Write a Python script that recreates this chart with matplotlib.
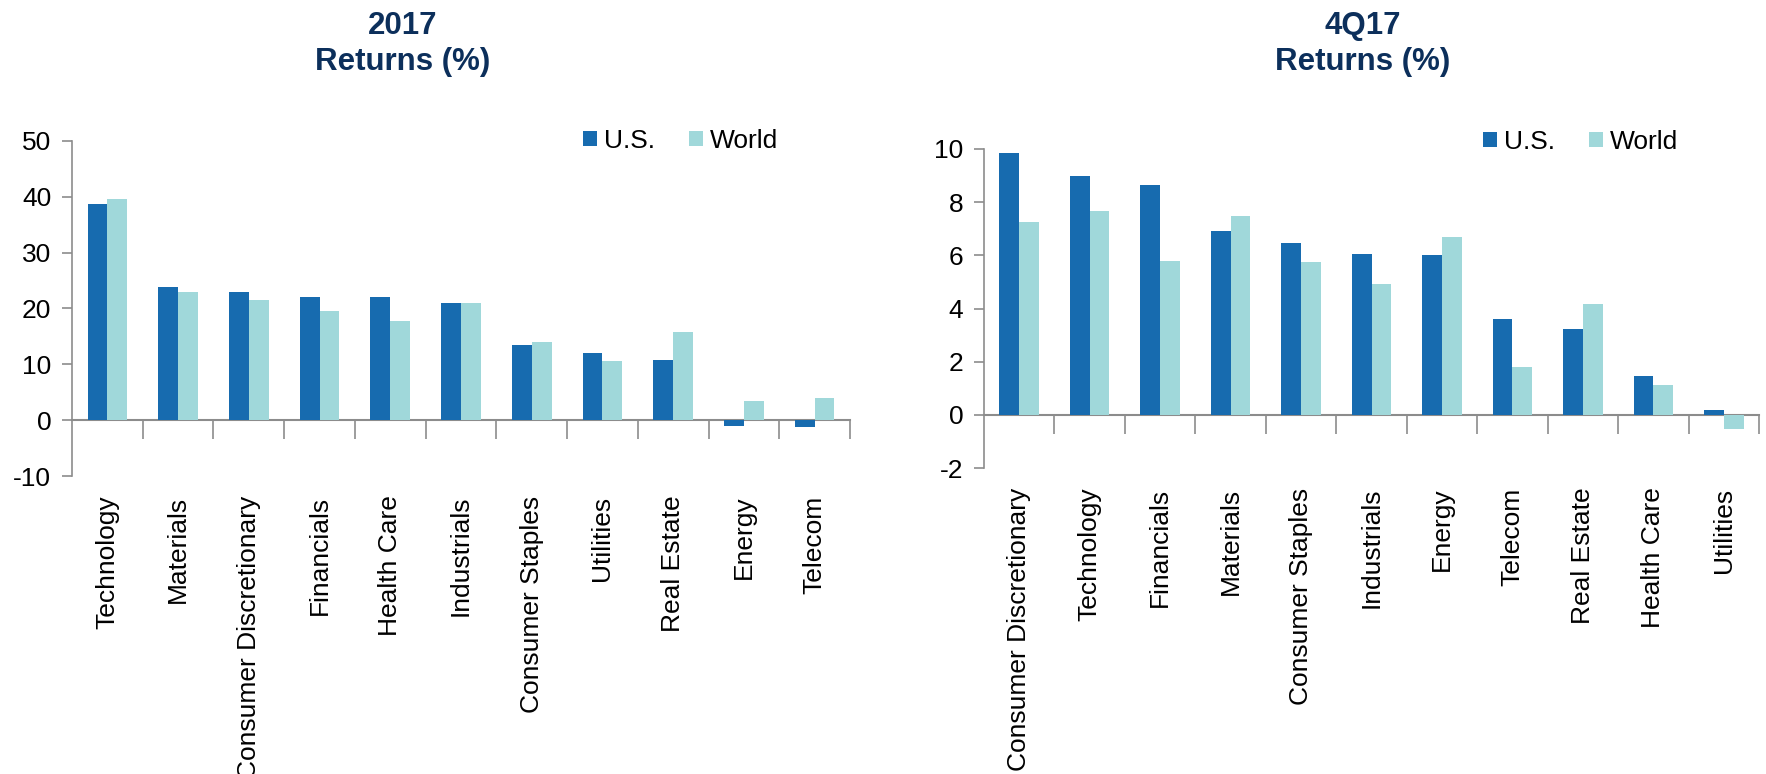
import matplotlib
matplotlib.use("Agg")
import matplotlib.pyplot as plt
import numpy as np

plt.rcParams['font.family'] = ['Liberation Sans', 'DejaVu Sans']
plt.rcParams['axes.unicode_minus'] = False

# 2017 full-year sector returns (%)
sectors_2017 = ["Technology", "Materials", "Consumer Discretionary", "Financials",
                "Health Care", "Industrials", "Consumer Staples", "Utilities",
                "Real Estate", "Energy", "Telecom"]
us_2017 = [38.8, 23.8, 22.9, 22.1, 22.0, 21.0, 13.4, 12.0, 10.7, -1.1, -1.3]
world_2017 = [39.7, 22.9, 21.5, 19.5, 17.7, 20.9, 14.0, 10.6, 15.8, 3.5, 4.0]

# 4Q17 sector returns (%)
sectors_4q17 = ["Consumer Discretionary", "Technology", "Financials", "Materials",
                "Consumer Staples", "Industrials", "Energy", "Telecom",
                "Real Estate", "Health Care", "Utilities"]
us_4q17 = [9.86, 9.0, 8.63, 6.93, 6.48, 6.06, 6.02, 3.6, 3.22, 1.46, 0.19]
world_4q17 = [7.25, 7.65, 5.78, 7.47, 5.75, 4.92, 6.68, 1.81, 4.17, 1.12, -0.53]

US_COLOR = "#176baf"
WORLD_COLOR = "#a0d8da"
TITLE_COLOR = "#0c2f5b"
AXIS_GRAY = "#8c8c8c"
W = 0.28

fig = plt.figure(figsize=(17.66, 7.74), dpi=100)
W_PX, H_PX = 1766.0, 774.0


def panel(rect, cats, us, world, ylim, step, legend_px):
    ax = fig.add_axes(rect)
    x = np.arange(len(cats))
    ax.bar(x - W / 2, us, W, color=US_COLOR, label="U.S.")
    ax.bar(x + W / 2, world, W, color=WORLD_COLOR, label="World")
    ax.set_xlim(-0.5, len(cats) - 0.5)
    ax.set_ylim(*ylim)
    ax.set_yticks(np.arange(ylim[0], ylim[1] + step / 2, step))
    for s in ["top", "right", "bottom"]:
        ax.spines[s].set_visible(False)
    ax.spines["left"].set_color(AXIS_GRAY)
    ax.spines["left"].set_linewidth(1.2)
    ax.tick_params(axis="y", direction="out", length=7, width=1.2,
                   color=AXIS_GRAY, labelsize=19, pad=8)
    ax.set_xticks(x)
    ax.set_xticklabels(cats, rotation=90, fontsize=19)
    ax.tick_params(axis="x", length=0, pad=14)

    # zero line with category separator ticks
    zero = (0 - ylim[0]) / (ylim[1] - ylim[0])
    sec = ax.secondary_xaxis(zero)
    sec.set_xticks(x + 0.5)
    sec.set_xticklabels([])
    sec.spines["bottom"].set_color(AXIS_GRAY)
    sec.spines["bottom"].set_linewidth(1.5)
    sec.tick_params(axis="x", direction="out", length=14, width=1.2,
                    color=AXIS_GRAY)

    ax.legend(loc="center left",
              bbox_to_anchor=(legend_px[0] / W_PX, 1 - legend_px[1] / H_PX),
              bbox_transform=fig.transFigure, ncol=2, frameon=False,
              fontsize=19, handlelength=0.53, handleheight=0.53,
              handletextpad=0.25, columnspacing=1.3, borderpad=0,
              borderaxespad=0)
    return ax


panel([72 / W_PX, 1 - 476 / H_PX, 778 / W_PX, (476 - 141) / H_PX],
      sectors_2017, us_2017, world_2017, (-10, 50), 10, (583, 141))
panel([984 / W_PX, 1 - 468 / H_PX, 775 / W_PX, (468 - 149) / H_PX],
      sectors_4q17, us_4q17, world_4q17, (-2, 10), 2, (1483, 142))

fig.text(403 / W_PX, 1 - 44 / H_PX, "2017\nReturns (%)", ha="center", va="center",
         fontsize=22.5, fontweight="bold", color=TITLE_COLOR, linespacing=1.25)
fig.text(1363 / W_PX, 1 - 44 / H_PX, "4Q17\nReturns (%)", ha="center", va="center",
         fontsize=22.5, fontweight="bold", color=TITLE_COLOR, linespacing=1.25)

fig.savefig("out.png", dpi=100)
